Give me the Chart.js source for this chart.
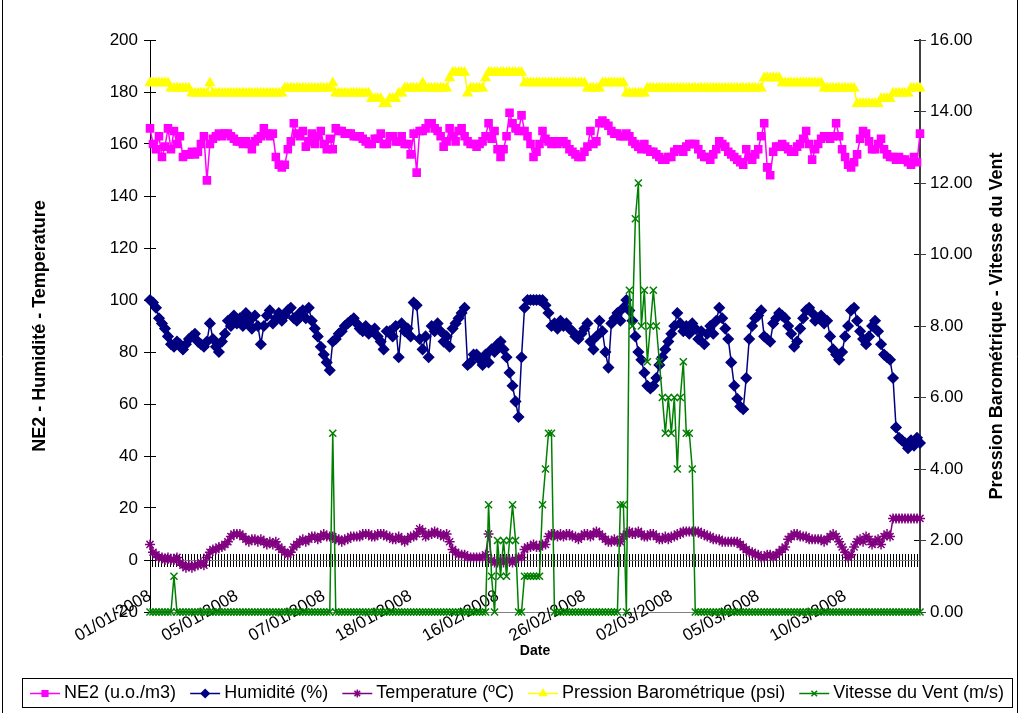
<!DOCTYPE html>
<html>
<head>
<meta charset="utf-8">
<script src="https://cdn.jsdelivr.net/npm/chart.js@4.4.0/dist/chart.umd.min.js"></script>
<style>
  html, body { margin: 0; padding: 0; background: #fff; }
</style>
</head>
<body>
<canvas id="chart" width="1024" height="713"></canvas>
<script>
'use strict';

// x tick labels, one every labelStep readings
var tickLabels = ['01/01/2008', '05/01/2008', '07/01/2008', '18/01/2008', '16/02/2008',
  '26/02/2008', '02/03/2008', '05/03/2008', '10/03/2008'];
var labelStep = 29;

var ne2 = [
  166,160,158,163,155,159,166,158,165,160,
  163,155,156,156,157,156,157,160,163,146,
  160,162,163,164,163,164,164,163,162,161,
  161,160,161,160,158,161,162,163,166,164,
  163,164,155,152,151,152,158,161,168,164,
  163,165,159,161,164,160,163,165,160,158,
  162,158,166,165,165,164,164,164,163,163,
  163,162,161,160,160,162,162,164,160,160,
  163,163,161,161,163,160,160,156,164,149,
  165,165,166,168,168,166,165,163,159,161,
  166,163,161,165,166,163,161,160,160,159,
  160,161,163,168,162,165,158,155,158,163,
  172,168,166,165,171,165,163,160,155,157,
  160,165,162,161,160,161,160,161,161,160,
  158,157,156,155,155,157,159,165,160,161,
  168,169,168,167,165,164,164,163,163,164,
  163,161,160,159,158,160,158,157,157,156,
  155,154,154,155,155,157,158,158,157,159,
  160,160,160,158,156,155,155,154,156,158,
  161,160,159,157,156,155,154,153,152,158,
  155,154,156,158,163,168,151,148,157,159,
  159,160,159,158,157,157,159,160,162,165,
  160,154,158,160,162,163,163,162,163,168,
  163,158,155,152,151,153,156,162,165,164,
  161,158,158,160,162,158,156,155,155,154,
  155,154,154,153,152,155,153,164
];

var humidity = [
  100,99,97,93,91,89,86,83,82,84,
  83,81,83,85,86,87,84,83,82,84,
  91,85,82,80,84,87,92,90,94,91,
  93,90,95,92,89,94,90,83,90,94,
  96,91,93,95,92,94,96,97,93,92,
  95,96,93,97,92,89,86,82,79,76,
  73,84,85,87,88,90,91,92,93,91,
  89,88,90,87,88,89,86,84,81,88,
  88,86,90,78,91,88,89,86,99,98,
  85,81,86,78,90,88,91,88,84,86,
  82,89,91,93,95,97,75,76,79,79,
  77,75,79,76,81,80,83,84,81,78,
  72,67,61,55,78,97,100,100,100,100,
  100,100,98,95,90,91,89,92,90,91,
  89,88,86,85,87,89,91,84,81,86,
  92,88,80,74,91,93,95,92,97,100,
  96,92,86,80,77,72,67,66,67,70,
  75,78,81,84,87,90,95,91,88,90,
  87,91,89,85,88,83,87,90,87,92,
  97,93,89,85,76,67,62,59,58,70,
  85,90,93,94,96,86,85,84,91,93,
  95,94,93,90,87,82,84,89,93,96,
  97,95,92,93,94,91,92,86,81,79,
  77,80,86,90,96,97,92,88,85,83,
  86,90,92,88,83,79,78,77,70,51,
  47,46,45,43,46,44,47,45
];

var temperature = [
  6,3,2,1,1,0,1,0,0,1,
  -1,-2,-3,-2,-3,-2,-2,-1,-2,1,
  3,4,4,5,5,6,7,9,10,10,
  10,9,8,7,8,8,7,8,7,6,
  7,6,7,5,4,3,2,3,5,6,
  7,8,7,8,9,9,8,9,10,9,
  9,9,8,8,7,8,8,9,9,9,
  9,10,10,10,9,9,10,10,10,9,
  9,8,8,9,8,7,8,9,9,10,
  12,11,9,10,10,11,10,10,9,10,
  7,4,3,2,2,2,1,1,1,1,
  1,1,2,10,0,-1,-1,0,-1,0,
  0,-1,0,1,1,4,5,5,6,5,
  5,6,6,9,10,10,9,10,9,10,
  10,9,9,8,9,10,10,9,10,11,
  10,9,8,7,7,8,7,7,9,10,
  11,10,10,11,10,9,9,10,10,9,
  8,8,9,8,9,9,10,10,11,11,
  11,11,11,11,10,10,9,9,8,8,
  8,7,7,7,7,7,7,6,5,4,
  3,3,2,2,1,1,2,2,1,2,
  3,4,5,8,9,10,10,9,9,9,
  8,8,8,8,8,7,8,9,10,9,
  7,5,3,1,2,5,7,8,7,9,
  8,6,7,8,6,9,10,9,16,16,
  16,16,16,16,16,16,16,16
];

var pressure = [
  14.80,14.80,14.80,14.80,14.80,14.80,14.80,14.65,14.65,14.65,
  14.65,14.65,14.65,14.65,14.51,14.51,14.51,14.51,14.51,14.51,
  14.80,14.51,14.51,14.51,14.51,14.51,14.51,14.51,14.51,14.51,
  14.51,14.51,14.51,14.51,14.51,14.51,14.51,14.51,14.51,14.51,
  14.51,14.51,14.51,14.51,14.51,14.65,14.65,14.65,14.65,14.65,
  14.65,14.65,14.65,14.65,14.65,14.65,14.65,14.65,14.65,14.65,
  14.65,14.80,14.51,14.51,14.51,14.51,14.51,14.51,14.51,14.51,
  14.51,14.51,14.51,14.51,14.36,14.36,14.36,14.36,14.22,14.22,
  14.36,14.36,14.36,14.51,14.51,14.65,14.65,14.65,14.65,14.65,
  14.65,14.80,14.65,14.65,14.65,14.65,14.65,14.65,14.65,14.65,
  14.94,15.09,15.09,15.09,15.09,15.09,14.51,14.65,14.65,14.65,
  14.65,14.65,14.94,15.09,15.09,15.09,15.09,15.09,15.09,15.09,
  15.09,15.09,15.09,15.09,15.09,14.80,14.80,14.80,14.80,14.80,
  14.80,14.80,14.80,14.80,14.80,14.80,14.80,14.80,14.80,14.80,
  14.80,14.80,14.80,14.80,14.80,14.80,14.65,14.65,14.65,14.65,
  14.65,14.80,14.80,14.80,14.80,14.80,14.80,14.80,14.80,14.51,
  14.51,14.51,14.51,14.51,14.51,14.51,14.65,14.65,14.65,14.65,
  14.65,14.65,14.65,14.65,14.65,14.65,14.65,14.65,14.65,14.65,
  14.65,14.65,14.65,14.65,14.65,14.65,14.65,14.65,14.65,14.65,
  14.65,14.65,14.65,14.65,14.65,14.65,14.65,14.65,14.65,14.65,
  14.65,14.65,14.65,14.65,14.65,14.94,14.94,14.94,14.94,14.94,
  14.94,14.80,14.80,14.80,14.80,14.80,14.80,14.80,14.80,14.80,
  14.80,14.80,14.80,14.80,14.80,14.65,14.65,14.65,14.65,14.65,
  14.65,14.65,14.65,14.65,14.65,14.65,14.22,14.22,14.22,14.22,
  14.22,14.22,14.22,14.22,14.36,14.36,14.36,14.36,14.51,14.51,
  14.51,14.51,14.51,14.51,14.65,14.65,14.65,14.65
];

var wind = [
  0,0,0,0,0,0,0,0,1,0,
  0,0,0,0,0,0,0,0,0,0,
  0,0,0,0,0,0,0,0,0,0,
  0,0,0,0,0,0,0,0,0,0,
  0,0,0,0,0,0,0,0,0,0,
  0,0,0,0,0,0,0,0,0,0,
  0,5,0,0,0,0,0,0,0,0,
  0,0,0,0,0,0,0,0,0,0,
  0,0,0,0,0,0,0,0,0,0,
  0,0,0,0,0,0,0,0,0,0,
  0,0,0,0,0,0,0,0,0,0,
  0,0,0,3,1,0,2,1,2,1,
  2,3,2,0,0,1,1,1,1,1,
  1,3,4,5,5,0,0,0,0,0,
  0,0,0,0,0,0,0,0,0,0,
  0,0,0,0,0,0,0,3,3,0,
  9,8,11,12,8,9,7,8,9,8,
  7,6,5,6,5,6,4,6,7,5,
  5,4,0,0,0,0,0,0,0,0,
  0,0,0,0,0,0,0,0,0,0,
  0,0,0,0,0,0,0,0,0,0,
  0,0,0,0,0,0,0,0,0,0,
  0,0,0,0,0,0,0,0,0,0,
  0,0,0,0,0,0,0,0,0,0,
  0,0,0,0,0,0,0,0,0,0,
  0,0,0,0,0,0,0,0
];

var categories = [];
for (var i = 0; i < ne2.length; i++) {
  categories.push(i);
}

var leftTitle = 'NE2 - Humidité - Temperature';
var rightTitle = 'Pression Barométrique - Vitesse du Vent';
var fontFamily = 'Arial, "Liberation Sans", sans-serif';

Chart.defaults.font.family = fontFamily;
Chart.defaults.color = '#000';

function series(label, data, color, style, axis, order) {
  return {
    label: label,
    data: data,
    yAxisID: axis,
    borderColor: color,
    backgroundColor: color,
    borderWidth: 1.5,
    pointStyle: style,
    pointRadius: 5,
    pointBorderWidth: 1.5,
    pointBackgroundColor: color,
    pointBorderColor: color,
    tension: 0,
    clip: false,
    order: order
  };
}

// small tick marks on the inner side of a value axis (Excel "cross" ticks)
function innerTicks(min, max, step, at) {
  return {
    type: 'linear',
    position: { x: at },
    min: min,
    max: max,
    ticks: { display: false, stepSize: step },
    grid: { drawOnChartArea: false, tickLength: 6, color: '#000' },
    border: { display: false }
  };
}

// legend box, right title and frame drawn by hand, Excel style
var extras = {
  id: 'extras',
  afterDraw: function (chart) {
    var c = chart.ctx;
    var area = chart.chartArea;

    c.save();
    c.font = 'bold 18px ' + fontFamily;
    c.fillStyle = '#000';
    c.textAlign = 'center';
    c.textBaseline = 'middle';
    c.translate(997, (area.top + area.bottom) / 2);
    c.rotate(-Math.PI / 2);
    c.fillText(rightTitle, 0, 0);
    c.restore();

    c.save();
    c.strokeStyle = '#000';
    c.lineWidth = 1;
    c.beginPath();
    c.moveTo(2.5, 0); c.lineTo(2.5, 713);
    c.moveTo(1017.5, 0); c.lineTo(1017.5, 713);
    c.stroke();

    var boxL = 22, boxR = 1012, boxT = 678, boxB = 707;
    c.strokeRect(boxL + 0.5, boxT + 0.5, boxR - boxL, boxB - boxT);

    c.font = '18px ' + fontFamily;
    c.textBaseline = 'middle';
    c.textAlign = 'left';
    var sets = chart.data.datasets;
    var sample = 30, gapText = 4;
    var used = 0;
    for (var k = 0; k < sets.length; k++) {
      used += sample + gapText + c.measureText(sets[k].label).width;
    }
    var gap = (boxR - boxL - 16 - used) / (sets.length - 1);
    var x = boxL + 8;
    var y = (boxT + boxB) / 2 + 1;
    for (var j = 0; j < sets.length; j++) {
      var ds = sets[j];
      c.strokeStyle = ds.borderColor;
      c.fillStyle = ds.borderColor;
      c.lineWidth = 1.5;
      c.beginPath();
      c.moveTo(x, y); c.lineTo(x + sample, y);
      c.stroke();
      if (Chart.helpers && Chart.helpers.drawPoint) {
        Chart.helpers.drawPoint(c, {pointStyle: ds.pointStyle, radius: 4, rotation: 0, borderWidth: 1.5}, x + sample / 2, y);
      }
      c.fillStyle = '#000';
      c.fillText(ds.label, x + sample + gapText, y);
      x += sample + gapText + c.measureText(ds.label).width + gap;
    }
    c.restore();
  }
};

var ctx = document.getElementById('chart').getContext('2d');

var chart = new Chart(ctx, {
  type: 'line',
  data: {
    labels: categories,
    datasets: [
      series('NE2 (u.o./m3)', ne2, '#FF00FF', 'rect', 'y', 5),
      series('Humidité (%)', humidity, '#000080', 'rectRot', 'y', 4),
      series('Temperature (ºC)', temperature, '#800080', 'star', 'y', 3),
      series('Pression Barométrique (psi)', pressure, '#FFFF00', 'triangle', 'y1', 2),
      series('Vitesse du Vent (m/s)', wind, '#008000', 'crossRot', 'y1', 1)
    ]
  },
  options: {
    responsive: false,
    animation: false,
    layout: { padding: { top: 40, left: 0, right: 0, bottom: 0 } },
    plugins: {
      legend: { display: false },
      tooltip: { enabled: false }
    },
    scales: {
      x: {
        type: 'category',
        position: 'bottom',
        grid: { display: false, drawTicks: false },
        border: { display: true, color: '#808080', width: 1 },
        ticks: { display: false },
        title: {
          display: true,
          text: 'Date',
          font: { size: 14, weight: 'bold' },
          color: '#000',
          padding: { top: 0, bottom: 53 }
        },
        afterFit: function (s) { s.height = 101; }
      },
      // date labels, hung on the bottom edge so they are not clipped
      xLabels: {
        type: 'category',
        position: { y: -20 },
        grid: { display: false, drawTicks: false },
        border: { display: false },
        ticks: {
          autoSkip: false,
          minRotation: 30,
          maxRotation: 30,
          padding: -26,
          font: { size: 17 },
          color: '#000',
          callback: function (v, i) {
            return i % labelStep === 0 ? tickLabels[i / labelStep] : '';
          }
        }
      },
      // category ticks crossing at value 0
      xTicks: {
        type: 'category',
        position: { y: 2.5 },
        grid: { display: true, drawOnChartArea: false, drawTicks: true, tickLength: 13, color: '#000', lineWidth: 1 },
        border: { display: false },
        ticks: { display: false }
      },
      y: {
        type: 'linear',
        position: 'left',
        min: -20,
        max: 200,
        ticks: { stepSize: 20, padding: 6, font: { size: 17 }, color: '#000' },
        grid: {
          drawOnChartArea: true,
          tickLength: 6,
          tickColor: '#000',
          color: function (c) {
            return c.tick && c.tick.value === 0 ? '#808080' : 'rgba(0,0,0,0)';
          }
        },
        border: { color: '#000', width: 1 },
        title: {
          display: true,
          text: leftTitle,
          font: { size: 18, weight: 'bold' },
          color: '#000',
          padding: { top: 29, bottom: 0 }
        },
        afterFit: function (s) { s.width = 150; }
      },
      yIn: innerTicks(-20, 200, 20, 2),
      y1: {
        type: 'linear',
        position: 'right',
        min: 0,
        max: 16,
        ticks: {
          stepSize: 2,
          padding: 4,
          font: { size: 17 },
          color: '#000',
          callback: function (v) { return v.toFixed(2); }
        },
        grid: { drawOnChartArea: false, tickLength: 6, color: '#404040' },
        border: { color: '#404040', width: 2 },
        afterFit: function (s) { s.width = 104; }
      },
      y1In: innerTicks(0, 16, 2, 257)
    }
  },
  plugins: [extras]
});
</script>
</body>
</html>
